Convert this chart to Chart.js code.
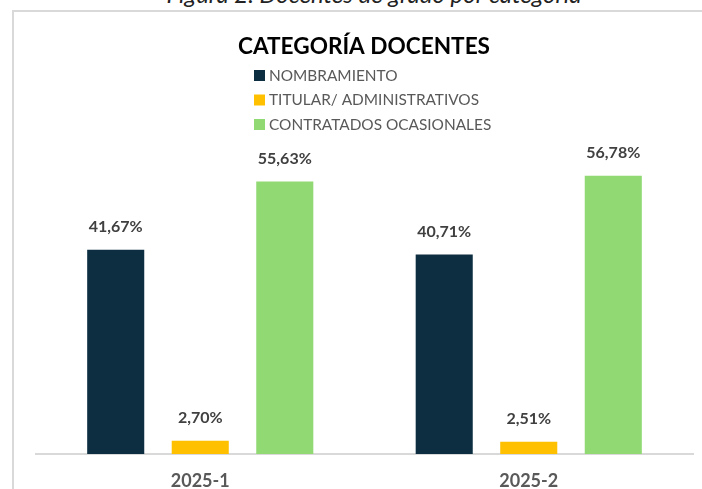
<!DOCTYPE html>
<html>
<head>
<meta charset="utf-8">
<script src="https://cdn.jsdelivr.net/npm/chart.js@4.4.1/dist/chart.umd.min.js"></script>
<style>
  html, body { margin: 0; padding: 0; background: #fff; overflow: hidden; }
  #wrap { position: relative; width: 702px; height: 489px; }
  #caption {
    position: absolute; left: 0; width: 748px; top: -18px;
    text-align: center; font: italic 24px/24px Lato, sans-serif; color: #222;
    white-space: nowrap;
  }
  #frame {
    position: absolute; left: 12px; top: 10px; width: 800px; height: 600px;
    border-left: 2px solid #d9d9d9; border-top: 2px solid #d9d9d9;
    background: #fff;
  }
  #barChart { position: absolute; left: 0; top: 0; }
</style>
</head>
<body>
<div id="wrap">
  <div id="caption">Figura 2. Docentes de grado por categoría</div>
  <div id="frame"></div>
  <canvas id="barChart" width="702" height="489"></canvas>
</div>
<script>
  const chartTitle = 'CATEGORÍA DOCENTES';
  const periods = ['2025-1', '2025-2'];
  const seriesNames = ['NOMBRAMIENTO', 'TITULAR/ ADMINISTRATIVOS', 'CONTRATADOS OCASIONALES'];
  const nombramiento = [41.67, 40.71];
  const titular = [2.70, 2.51];
  const contratados = [55.63, 56.78];
  const colors = ['#0c2e40', '#ffc000', '#91d973'];

  const fontFamily = 'Lato, "Open Sans", sans-serif';

  // etiquetas de porcentaje encima de cada barra
  const valueLabels = {
    id: 'valueLabels',
    afterDatasetsDraw(chart) {
      const ctx = chart.ctx;
      ctx.save();
      ctx.font = 'bold 16px ' + fontFamily;
      ctx.fillStyle = '#404040';
      ctx.textAlign = 'center';
      ctx.textBaseline = 'middle';
      chart.data.datasets.forEach((ds, i) => {
        chart.getDatasetMeta(i).data.forEach((bar, j) => {
          const txt = ds.data[j].toFixed(2).replace('.', ',') + '%';
          ctx.fillText(txt, bar.x, bar.y - 23);
        });
      });
      ctx.restore();
    }
  };

  // titulo y leyenda vertical
  const titleLegend = {
    id: 'titleLegend',
    afterDraw(chart) {
      const ctx = chart.ctx;
      ctx.save();
      ctx.font = 'bold 22.6px ' + fontFamily;
      ctx.fillStyle = '#000';
      ctx.textAlign = 'center';
      ctx.textBaseline = 'middle';
      ctx.fillText(chartTitle, 364, 47);

      ctx.font = '15.4px ' + fontFamily;
      ctx.textAlign = 'left';
      chart.data.datasets.forEach((ds, i) => {
        const y = 75 + i * 24.5;
        ctx.fillStyle = ds.backgroundColor;
        ctx.fillRect(254, y - 5, 11, 11);
        ctx.fillStyle = '#595959';
        ctx.fillText(ds.label, 269, y + 1);
      });
      ctx.restore();
    }
  };

  const chart = new Chart(document.getElementById('barChart'), {
    type: 'bar',
    data: {
      labels: periods,
      datasets: [
        { label: seriesNames[0], data: nombramiento, backgroundColor: colors[0] },
        { label: seriesNames[1], data: titular, backgroundColor: colors[1] },
        { label: seriesNames[2], data: contratados, backgroundColor: colors[2] }
      ]
    },
    options: {
      responsive: false,
      animation: false,
      categoryPercentage: 0.772,
      barPercentage: 0.675,
      layout: { padding: { top: 160, left: 36, right: 9, bottom: 0 } },
      plugins: {
        legend: { display: false },
        title: { display: false },
        tooltip: { enabled: false }
      },
      scales: {
        x: {
          grid: { display: false },
          border: { display: true, color: '#d9d9d9', width: 2 },
          ticks: {
            color: '#595959',
            font: { family: fontFamily, size: 18, weight: 'bold' },
            padding: 8
          },
          afterFit: s => { s.height = 35; }
        },
        y: {
          display: false,
          min: 0,
          max: 60
        }
      }
    },
    plugins: [valueLabels, titleLegend]
  });
</script>
</body>
</html>
